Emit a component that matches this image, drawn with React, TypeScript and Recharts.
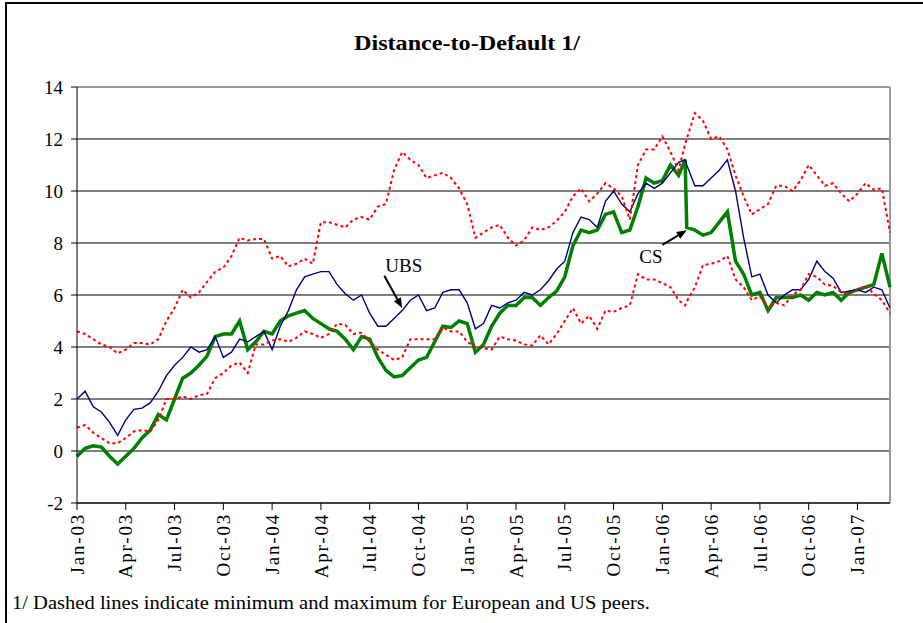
import {
  CartesianGrid,
  Line,
  LineChart,
  ReferenceDot,
  ReferenceLine,
  XAxis,
  YAxis,
} from "recharts";

// months since Jan-03, half-month steps (37.4 = the day before the CS drop)
const monthIdx = [
  0, 0.5, 1, 1.5, 2, 2.5, 3, 3.5, 4, 4.5, 5, 5.5,
  6, 6.5, 7, 7.5, 8, 8.5, 9, 9.5, 10, 10.5, 11, 11.5,
  12, 12.5, 13, 13.5, 14, 14.5, 15, 15.5, 16, 16.5, 17, 17.5,
  18, 18.5, 19, 19.5, 20, 20.5, 21, 21.5, 22, 22.5, 23, 23.5,
  24, 24.5, 25, 25.5, 26, 26.5, 27, 27.5, 28, 28.5, 29, 29.5,
  30, 30.5, 31, 31.5, 32, 32.5, 33, 33.5, 34, 34.5, 35, 35.5,
  36, 36.5, 37, 37.4, 37.5, 38, 38.5, 39, 39.5, 40, 40.5, 41, 41.5,
  42, 42.5, 43, 43.5, 44, 44.5, 45, 45.5, 46, 46.5, 47, 47.5,
  48, 48.5, 49, 49.5, 50,
];

const ubs = [
  2.0, 2.3, 1.7, 1.5, 1.1, 0.6, 1.2, 1.6, 1.65, 1.85, 2.3, 2.9,
  3.3, 3.6, 4.0, 3.8, 3.9, 4.4, 3.6, 3.8, 4.3, 4.2, 4.4, 4.6,
  3.9, 4.8, 5.4, 6.2, 6.7, 6.8, 6.9, 6.9, 6.4, 6.05, 5.8, 6.0,
  5.3, 4.8, 4.8, 5.1, 5.4, 5.8, 6.0, 5.4, 5.5, 6.1, 6.2, 6.2,
  5.7, 4.7, 4.9, 5.6, 5.5, 5.7, 5.8, 6.1, 6.0, 6.2, 6.55, 7.0,
  7.3, 8.4, 9.0, 8.9, 8.6, 9.6, 10.0, 9.5, 9.2, 9.9, 10.3, 10.1,
  10.3, 10.7, 11.1, 11.2, 11.0, 10.2, 10.2, 10.5, 10.8, 11.2, 10.0, 8.2, 6.7,
  6.8, 6.0, 5.7, 6.0, 6.2, 6.2, 6.6, 7.3, 6.9, 6.65, 6.1, 6.15,
  6.2, 6.1, 6.3, 6.2, 5.5,
];

const cs = [
  -0.2, 0.1, 0.2, 0.15, -0.2, -0.5, -0.2, 0.1, 0.5, 0.8, 1.4, 1.2,
  2.0, 2.8, 3.0, 3.3, 3.65, 4.4, 4.5, 4.5, 5.0, 3.9, 4.2, 4.6,
  4.5, 5.0, 5.2, 5.3, 5.4, 5.1, 4.9, 4.7, 4.6, 4.3, 3.9, 4.4,
  4.3, 3.6, 3.1, 2.85, 2.9, 3.2, 3.5, 3.6, 4.2, 4.8, 4.75, 5.0,
  4.9, 3.8, 4.1, 4.8, 5.3, 5.6, 5.6, 5.9, 5.9, 5.6, 5.9, 6.15,
  6.7, 7.9, 8.5, 8.4, 8.5, 9.1, 9.2, 8.4, 8.5, 9.4, 10.5, 10.3,
  10.4, 11.0, 10.6, 11.2, 8.6, 8.5, 8.3, 8.4, 8.8, 9.2, 7.3, 6.8, 6.0,
  6.1, 5.4, 5.9, 5.9, 5.9, 6.0, 5.8, 6.1, 6.0, 6.1, 5.8, 6.1,
  6.2, 6.3, 6.4, 7.6, 6.3,
];

const peerMax = [
  4.6, 4.5, 4.3, 4.1, 4.0, 3.75, 3.9, 4.15, 4.15, 4.1, 4.3, 5.0,
  5.5, 6.2, 5.9, 6.1, 6.5, 6.9, 7.05, 7.5, 8.2, 8.1, 8.15, 8.15,
  7.4, 7.5, 7.1, 7.2, 7.4, 7.2, 8.8, 8.8, 8.7, 8.6, 8.9, 9.0,
  8.9, 9.4, 9.5, 10.8, 11.5, 11.2, 11.0, 10.5, 10.6, 10.7, 10.5, 10.1,
  9.5, 8.2, 8.4, 8.6, 8.7, 8.2, 7.9, 8.1, 8.6, 8.5, 8.6, 8.85,
  9.2, 9.8, 10.1, 9.6, 9.9, 10.3, 10.1, 9.8, 8.9, 11.0, 11.6, 11.6,
  12.1, 11.5, 10.8, 11.8, 12.0, 13.0, 12.7, 12.0, 12.1, 11.6, 10.6, 9.8, 9.1,
  9.3, 9.5, 10.2, 10.2, 10.0, 10.4, 11.0, 10.6, 10.2, 10.3, 9.9, 9.6,
  9.9, 10.3, 10.05, 10.1, 8.4,
];

const peerMin = [
  0.9, 1.0, 0.7, 0.5, 0.3, 0.3, 0.5, 0.75, 0.8, 0.75, 1.2, 2.0,
  2.0, 2.1, 2.0, 2.15, 2.2, 2.8, 3.0, 3.3, 3.4, 3.0, 4.1, 4.1,
  4.25, 4.3, 4.2, 4.35, 4.6, 4.5, 4.35, 4.5, 4.9, 4.85, 4.5, 4.55,
  4.2, 3.9, 3.7, 3.5, 3.6, 4.3, 4.3, 4.3, 4.3, 4.75, 4.6, 4.6,
  4.2, 4.0, 3.95, 3.9, 4.4, 4.3, 4.25, 4.1, 4.05, 4.45, 4.1, 4.5,
  5.0, 5.5, 4.9, 5.2, 4.7, 5.4, 5.35, 5.5, 5.6, 6.8, 6.6, 6.6,
  6.45, 6.3, 5.8, 5.6, 5.75, 6.3, 7.15, 7.2, 7.3, 7.5, 6.6, 6.3, 5.8,
  5.95, 5.5, 5.7, 5.6, 6.0, 6.2, 6.8, 6.7, 6.4, 6.35, 6.1, 6.05,
  6.2, 6.35, 6.05, 5.8, 5.3,
];

const tickMonths = [0, 3, 6, 9, 12, 15, 18, 21, 24, 27, 30, 33, 36, 39, 42, 45, 48];
const tickLabels = [
  "Jan-03", "Apr-03", "Jul-03", "Oct-03", "Jan-04", "Apr-04", "Jul-04", "Oct-04",
  "Jan-05", "Apr-05", "Jul-05", "Oct-05", "Jan-06", "Apr-06", "Jul-06", "Oct-06", "Jan-07",
];
const yTicks = [-2, 0, 2, 4, 6, 8, 10, 12, 14];

const data = monthIdx.map((m, i) => ({
  m,
  ubs: ubs[i],
  cs: cs[i],
  max: peerMax[i],
  min: peerMin[i],
}));

const serif = "'Liberation Serif', 'Times New Roman', serif";
const serifStyle = { fontFamily: serif };

const DateTick = (props: any) => {
  const { x, y, payload } = props;
  const label = tickLabels[tickMonths.indexOf(payload.value)];
  return (
    <text
      x={x}
      y={y}
      dy="0.35em"
      transform={`rotate(-90, ${x}, ${y})`}
      textAnchor="end"
      style={serifStyle}
      fontSize={19}
      letterSpacing={1.8}
      fill="#000"
    >
      {label}
    </text>
  );
};

const NumTick = (props: any) => {
  const { x, y, payload } = props;
  return (
    <text
      x={x}
      y={y}
      dy="0.35em"
      textAnchor="end"
      style={serifStyle}
      fontSize={19}
      fill="#000"
    >
      {payload.value}
    </text>
  );
};

const Arrow = (props: any) => {
  const { x1, y1, x2, y2 } = props;
  const a = Math.atan2(y2 - y1, x2 - x1);
  const len = 10;
  const w = 4;
  const bx = x2 - len * Math.cos(a);
  const by = y2 - len * Math.sin(a);
  const p1 = `${bx + w * Math.sin(a)},${by - w * Math.cos(a)}`;
  const p2 = `${bx - w * Math.sin(a)},${by + w * Math.cos(a)}`;
  return (
    <g>
      <line x1={x1} y1={y1} x2={bx} y2={by} stroke="#000" strokeWidth={2} />
      <polygon points={`${x2},${y2} ${p1} ${p2}`} fill="#000" />
    </g>
  );
};

const NoteLabel = (text: string) => (props: any) => (
  <text
    x={props.cx}
    y={props.cy}
    dy="0.35em"
    textAnchor="middle"
    style={serifStyle}
    fontSize={19}
    fill="#000"
  >
    {text}
  </text>
);

export default function App() {
  return (
    <div
      style={{
        position: "absolute",
        left: 0,
        top: 0,
        width: 923,
        height: 623,
        background: "#fff",
        overflow: "hidden",
      }}
    >
      <div
        style={{
          position: "absolute",
          left: 5,
          top: 2,
          width: 930,
          height: 630,
          borderLeft: "2px solid #000",
          borderTop: "2px solid #000",
        }}
      />
      <div style={{ position: "absolute", left: 0, top: 0 }}>
        <LineChart
          width={923}
          height={623}
          data={data}
          margin={{ top: 87, right: 33, bottom: 0, left: 0 }}
        >
          <CartesianGrid vertical={false} stroke="#000" strokeWidth={1} />
          <XAxis
            dataKey="m"
            type="number"
            domain={[0, 50]}
            ticks={tickMonths}
            interval={0}
            height={120}
            tickSize={7}
            tickMargin={3}
            axisLine={{ stroke: "#000" }}
            tickLine={{ stroke: "#000" }}
            tick={DateTick}
          />
          <YAxis
            type="number"
            domain={[-2, 14]}
            ticks={yTicks}
            interval={0}
            width={77}
            tickSize={6}
            tickMargin={8}
            axisLine={{ stroke: "#000" }}
            tickLine={{ stroke: "#000" }}
            tick={NumTick}
          />
          <ReferenceLine y={14} stroke="#999" strokeWidth={2} />
          <ReferenceLine x={50} stroke="#999" strokeWidth={2} />
          <Line
            dataKey="cs"
            stroke="#008000"
            strokeWidth={3.5}
            dot={false}
            isAnimationActive={false}
          />
          <Line
            dataKey="ubs"
            stroke="#000080"
            strokeWidth={1.4}
            dot={false}
            isAnimationActive={false}
          />
          <Line
            dataKey="max"
            stroke="#ff0000"
            strokeWidth={2}
            strokeDasharray="3 3"
            dot={false}
            isAnimationActive={false}
          />
          <Line
            dataKey="min"
            stroke="#ff0000"
            strokeWidth={2}
            strokeDasharray="3 3"
            dot={false}
            isAnimationActive={false}
          />
          <ReferenceLine
            segment={[
              { x: 18.9, y: 6.74 },
              { x: 20.0, y: 5.5 },
            ]}
            shape={Arrow}
          />
          <ReferenceLine
            segment={[
              { x: 36.0, y: 7.93 },
              { x: 37.5, y: 8.49 },
            ]}
            shape={Arrow}
          />
          <ReferenceDot x={20.1} y={7.13} r={0} shape={NoteLabel("UBS")} />
          <ReferenceDot x={35.3} y={7.48} r={0} shape={NoteLabel("CS")} />
        </LineChart>
      </div>
      <svg
        width={923}
        height={623}
        style={{ position: "absolute", left: 0, top: 0, pointerEvents: "none" }}
      >
        <text
          x={467}
          y={50}
          textAnchor="middle"
          style={serifStyle}
          fontWeight="bold"
          fontSize={22}
          textLength={226}
          lengthAdjust="spacingAndGlyphs"
          fill="#000"
        >
          Distance-to-Default 1/
        </text>
        <text
          x={12}
          y={609}
          style={serifStyle}
          fontSize={19}
          textLength={638}
          lengthAdjust="spacingAndGlyphs"
          fill="#000"
        >
          1/ Dashed lines indicate minimum and maximum for European and US peers.
        </text>
      </svg>
    </div>
  );
}
